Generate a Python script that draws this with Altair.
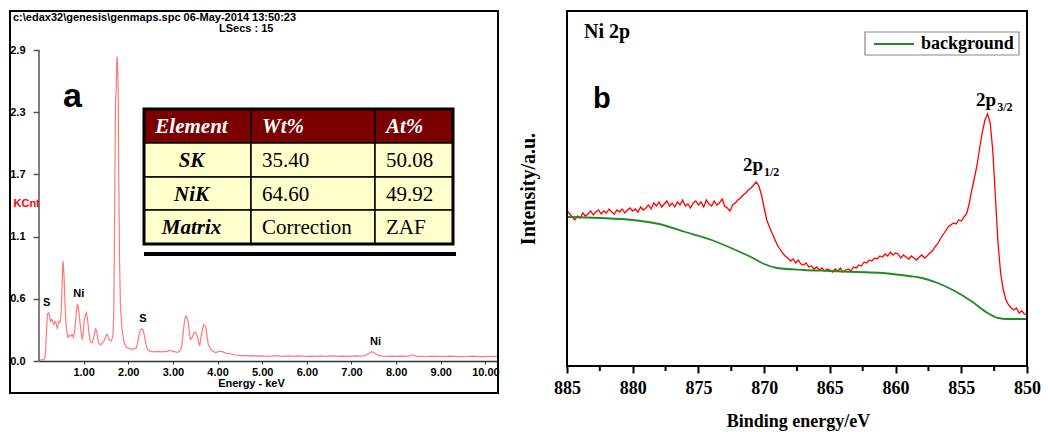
import json
import altair as alt
import pandas as pd

SANS = "Liberation Sans"
SERIF = "Liberation Serif"

# ---------------- Panel (a): EDS spectrum ----------------
EDS_HEADER = ["c:\\edax32\\genesis\\genmaps.spc  06-May-2014 13:50:23", "LSecs :  15"]
EDS_SPECTRUM = [  # (energy keV, KCnt)
    (0.00, 0.005), (0.05, 0.01), (0.10, 0.01), (0.13, 0.02), (0.15, 0.12), (0.17, 0.30),
    (0.19, 0.44), (0.22, 0.45), (0.24, 0.40), (0.26, 0.36), (0.28, 0.39), (0.30, 0.38),
    (0.32, 0.35), (0.34, 0.34), (0.36, 0.37), (0.38, 0.36), (0.41, 0.30), (0.43, 0.34),
    (0.45, 0.37), (0.47, 0.36), (0.49, 0.42), (0.51, 0.60), (0.53, 0.88), (0.54, 0.93),
    (0.56, 0.80), (0.58, 0.56), (0.60, 0.38), (0.62, 0.28), (0.65, 0.22), (0.68, 0.24),
    (0.71, 0.23), (0.74, 0.25), (0.77, 0.22), (0.80, 0.28), (0.82, 0.38), (0.84, 0.47),
    (0.86, 0.53), (0.88, 0.50), (0.90, 0.44), (0.92, 0.35), (0.94, 0.28), (0.97, 0.20),
    (0.99, 0.26), (1.01, 0.37), (1.04, 0.43), (1.06, 0.45), (1.08, 0.41), (1.10, 0.34),
    (1.12, 0.26), (1.14, 0.20), (1.17, 0.17), (1.19, 0.17), (1.22, 0.21), (1.24, 0.25),
    (1.27, 0.30), (1.29, 0.28), (1.31, 0.23), (1.33, 0.18), (1.35, 0.16), (1.38, 0.15),
    (1.42, 0.17), (1.45, 0.18), (1.47, 0.20), (1.50, 0.24), (1.53, 0.25), (1.55, 0.22),
    (1.57, 0.20), (1.60, 0.19), (1.62, 0.19), (1.64, 0.21), (1.66, 0.25), (1.675, 0.45),
    (1.684, 0.80), (1.698, 1.60), (1.713, 2.42), (1.729, 2.52), (1.742, 2.80), (1.751, 2.84),
    (1.765, 2.68), (1.774, 2.49), (1.787, 1.74), (1.803, 0.96), (1.825, 0.50), (1.863, 0.28),
    (1.908, 0.17), (1.95, 0.13), (2.00, 0.12), (2.05, 0.11), (2.10, 0.11), (2.15, 0.12),
    (2.18, 0.12), (2.21, 0.17), (2.24, 0.24), (2.27, 0.29), (2.30, 0.30), (2.33, 0.29),
    (2.36, 0.24), (2.39, 0.17), (2.42, 0.12), (2.45, 0.10), (2.50, 0.09), (2.55, 0.085),
    (2.60, 0.09), (2.65, 0.085), (2.70, 0.09), (2.75, 0.085), (2.80, 0.088), (2.85, 0.09),
    (2.90, 0.095), (2.95, 0.10), (3.00, 0.09), (3.05, 0.085), (3.10, 0.08), (3.15, 0.09),
    (3.19, 0.12), (3.22, 0.22), (3.25, 0.34), (3.27, 0.40), (3.29, 0.42), (3.31, 0.41),
    (3.34, 0.37), (3.37, 0.27), (3.39, 0.20), (3.42, 0.21), (3.44, 0.23), (3.47, 0.26),
    (3.49, 0.27), (3.52, 0.26), (3.55, 0.22), (3.58, 0.17), (3.60, 0.14), (3.62, 0.19),
    (3.64, 0.25), (3.67, 0.31), (3.69, 0.34), (3.72, 0.33), (3.74, 0.30), (3.77, 0.22),
    (3.79, 0.16), (3.83, 0.12), (3.86, 0.10), (3.90, 0.09), (3.94, 0.08), (3.98, 0.08),
    (4.02, 0.09), (4.06, 0.09), (4.10, 0.088), (4.15, 0.08), (4.20, 0.07), (4.25, 0.072),
    (4.30, 0.065), (4.35, 0.06), (4.40, 0.056), (4.50, 0.052), (4.60, 0.05), (4.70, 0.047),
    (4.80, 0.05), (4.90, 0.046), (5.00, 0.048), (5.10, 0.044), (5.20, 0.046), (5.30, 0.05),
    (5.40, 0.045), (5.50, 0.043), (5.60, 0.047), (5.70, 0.044), (5.80, 0.048), (5.90, 0.045),
    (6.00, 0.042), (6.10, 0.046), (6.20, 0.044), (6.30, 0.048), (6.40, 0.043), (6.50, 0.045),
    (6.60, 0.047), (6.70, 0.044), (6.80, 0.046), (6.90, 0.043), (7.00, 0.045), (7.10, 0.047),
    (7.20, 0.046), (7.30, 0.05), (7.35, 0.06), (7.40, 0.075), (7.45, 0.087), (7.50, 0.08),
    (7.55, 0.065), (7.60, 0.052), (7.70, 0.046), (7.80, 0.044), (7.90, 0.045), (8.00, 0.043),
    (8.10, 0.046), (8.20, 0.044), (8.30, 0.047), (8.38, 0.058), (8.45, 0.046), (8.60, 0.044),
    (8.70, 0.042), (8.80, 0.045), (8.90, 0.043), (9.00, 0.044), (9.10, 0.042), (9.20, 0.045),
    (9.30, 0.043), (9.40, 0.041), (9.50, 0.044), (9.60, 0.042), (9.70, 0.045), (9.80, 0.043),
    (9.90, 0.041), (10.00, 0.043), (10.10, 0.042), (10.26, 0.044),
]
EDS_Y_TICKS = [0.0, 0.58, 1.16, 1.74, 2.32, 2.9]
EDS_Y_TICK_LABELS = ["0.0", "0.6", "1.1", "1.7", "2.3", "2.9"]
EDS_X_TICKS = [1, 2, 3, 4, 5, 6, 7, 8, 9, 10]
EDS_PEAK_NAMES = ["S", "Ni", "S", "Ni"]
EDS_PEAK_KEV = [0.17, 0.89, 2.33, 7.54]
EDS_PEAK_KCNT = [0.45, 0.53, 0.30, 0.087]

TABLE_HEADER = ["Element", "Wt%", "At%"]
TABLE_ELEMENT = ["SK", "NiK", "Matrix"]
TABLE_WT = ["35.40", "64.60", "Correction"]
TABLE_AT = ["50.08", "49.92", "ZAF"]

# ---------------- Panel (b): XPS Ni 2p ----------------
XPS_BE_START = 885.0
XPS_BE_STEP = 0.2
XPS_RED = [
    156, 152, 149, 146, 150, 148, 153, 150, 152, 155,
    151, 154, 156, 152, 155, 153, 157, 154, 152, 156,
    154, 157, 153, 156, 158, 155, 157, 154, 159, 156,
    158, 161, 157, 163, 160, 164, 159, 162, 165, 160,
    163, 159, 164, 161, 166, 160, 162, 158, 163, 165,
    161, 164, 159, 166, 162, 160, 165, 161, 163, 167,
    160, 158, 155, 161, 163, 166, 168, 171, 173, 176,
    178, 181, 184, 180, 171, 158, 146, 139, 133, 127,
    121, 117, 113, 110, 108, 105, 107, 103, 106, 102,
    101, 103, 99, 100, 97, 99, 96, 98, 95, 97,
    96, 94, 97, 95, 98, 94, 96, 97, 95, 99,
    98, 101, 100, 104, 103, 106, 105, 108, 107, 110,
    109, 112, 110, 114, 111, 113, 112, 108, 111, 109,
    107, 110, 108, 106, 109, 111, 108, 110, 113, 115,
    119, 122, 127, 131, 135, 139, 141, 143, 142, 146,
    145, 149, 152, 162, 176, 188, 201, 218, 234, 246,
    252, 243, 215, 168, 122, 92, 76, 66, 61, 58,
    56, 58, 53, 55, 52, 51,
]
BG_BE = [885.0, 882.5, 880.0, 878.0, 876.0, 874.0, 872.0, 871.0, 870.0, 869.0, 867.0,
         865.0, 863.0, 861.0, 859.0, 858.0, 856.8, 855.5, 854.25, 853.0, 852.2, 851.5, 850.0]
BG_INT = [149, 148, 146, 142, 134, 126, 115, 109, 102, 98, 96,
          95, 94, 93, 90, 88, 83, 75, 65, 53, 48, 47, 47]
XPS_MAJOR_TICKS = [885, 880, 875, 870, 865, 860, 855, 850]
XPS_MINOR_TICKS = [882.5, 877.5, 872.5, 867.5, 862.5, 857.5, 852.5]
XPS_PEAK_MAIN = ["2p", "2p"]
XPS_PEAK_SUB = ["1/2", "3/2"]
XPS_PEAK_LABEL_BE = [870.05, 852.31]
XPS_PEAK_LABEL_INT = [195, 260]
LEGEND_LABELS = ["background"]

RED = "#ff0000"
GREEN = "#1e8c1e"
EDS_COLOR = "#ff7878"

one = pd.DataFrame({"k": [0]})

# ============ Panel (a) ============
W_A, H_A = 458, 350
x_a = alt.Scale(domain=[0, 10.26], nice=False, zero=False)
y_a = alt.Scale(domain=[0, 3.264], nice=False)

ylab_expr = "{}[indexof({}, datum.value)]".format(json.dumps(EDS_Y_TICK_LABELS), json.dumps(EDS_Y_TICKS))

axis_x_a = alt.Axis(values=EDS_X_TICKS, format=".2f", title="Energy - keV", titleX=212, titleY=22,
                    titleAlign="center", titleBaseline="middle", titleFont=SANS, titleFontWeight="bold",
                    titleFontSize=11, titleColor="black", labelFont=SANS, labelFontWeight="bold",
                    labelFontSize=11, labelColor="black", tickSize=3, tickColor="#333", domainColor="#333",
                    domainWidth=1.5, labelPadding=2, grid=False, labelFlush=False, labelOverlap=False)
axis_y_a = alt.Axis(values=EDS_Y_TICKS, labelExpr=ylab_expr, title="KCnt", titleAngle=0, titleX=-26,
                    titleY=192, titleAlign="left", titleBaseline="middle", titleColor="red",
                    titleFont=SANS, titleFontWeight="bold", titleFontSize=11, labelFont=SANS,
                    labelFontWeight="bold", labelFontSize=11, labelColor="black", tickSize=6,
                    tickColor="#555", tickWidth=1.5, domain=False, labelPadding=8, grid=False,
                    labelFlush=False, labelOverlap=False)

eds = pd.DataFrame(EDS_SPECTRUM, columns=["E", "C"])
line_a = alt.Chart(eds).mark_line(color=EDS_COLOR, strokeWidth=1.2, clip=True).encode(
    x=alt.X("E:Q", scale=x_a, axis=axis_x_a),
    y=alt.Y("C:Q", scale=y_a, axis=axis_y_a),
)
y_rule = alt.Chart(pd.DataFrame({"C": [EDS_Y_TICKS[0]], "C2": [EDS_Y_TICKS[-1]]})).mark_rule(
    color="#555", strokeWidth=1.5).encode(x=alt.value(0), y="C:Q", y2="C2:Q")

peaks_a = alt.Chart(pd.DataFrame({"E": EDS_PEAK_KEV, "C": EDS_PEAK_KCNT, "name": EDS_PEAK_NAMES})).mark_text(
    font=SANS, fontWeight="bold", fontSize=11, dy=-10, baseline="middle", color="black").encode(
    x="E:Q", y="C:Q", text="name:N")

frame_a = alt.Chart(one).mark_rect(fillOpacity=0, stroke="black", strokeWidth=2).encode(
    x=alt.value(-29), x2=alt.value(459), y=alt.value(0), y2=alt.value(382))

header1 = alt.Chart(pd.DataFrame({"t": [EDS_HEADER[0]]})).mark_text(
    align="left", baseline="middle", font=SANS, fontWeight="bold", fontSize=11, color="black").encode(
    text="t:N", x=alt.value(-26), y=alt.value(7))
header2 = alt.Chart(pd.DataFrame({"t": [EDS_HEADER[1]]})).mark_text(
    align="left", baseline="middle", font=SANS, fontWeight="bold", fontSize=11, color="black").encode(
    text="t:N", x=alt.value(180), y=alt.value(18))

label_a = alt.Chart(pd.DataFrame({"t": ["a"]})).mark_text(
    align="left", baseline="alphabetic", font=SANS, fontWeight="bold", fontSize=34, color="black").encode(
    text="t:N", x=alt.value(24), y=alt.value(96))

# table layout (pixels, relative to panel-a plot area)
COL_EDGES = [105, 212, 336, 414]
ROW_EDGES = [98, 132, 166, 199, 233]
rows = [TABLE_HEADER] + [list(r) for r in zip(TABLE_ELEMENT, TABLE_WT, TABLE_AT)]
cells = []
for r, row in enumerate(rows):
    for c, txt in enumerate(row):
        if c == 0:
            tx = (COL_EDGES[0] + COL_EDGES[1]) / 2 - 6
        else:
            tx = COL_EDGES[c] + 11
        cells.append(dict(txt=txt, x0=COL_EDGES[c], x1=COL_EDGES[c + 1], y0=ROW_EDGES[r],
                          y1=ROW_EDGES[r + 1], fill="#7a0000" if r == 0 else "#ffffcc",
                          tx=tx, ty=(ROW_EDGES[r] + ROW_EDGES[r + 1]) / 2 + 1,
                          role="head" if r == 0 else ("elem" if c == 0 else "val")))
cells = pd.DataFrame(cells)

table_rect = alt.Chart(cells).mark_rect(stroke="black", strokeWidth=1.5).encode(
    x=alt.X("x0:Q", scale=None), x2="x1:Q", y=alt.Y("y0:Q", scale=None), y2="y1:Q",
    fill=alt.Fill("fill:N", scale=None))
table_border = alt.Chart(one).mark_rect(fillOpacity=0, stroke="black", strokeWidth=3).encode(
    x=alt.value(COL_EDGES[0]), x2=alt.value(COL_EDGES[-1]), y=alt.value(ROW_EDGES[0]), y2=alt.value(ROW_EDGES[-1]))
table_bar = alt.Chart(one).mark_rect(fill="black").encode(
    x=alt.value(COL_EDGES[0]), x2=alt.value(COL_EDGES[-1] + 3), y=alt.value(241), y2=alt.value(245))


def table_text(role, align, color, style, weight):
    return alt.Chart(cells[cells.role == role]).mark_text(
        align=align, baseline="middle", font=SERIF, fontSize=21, fontStyle=style,
        fontWeight=weight, color=color).encode(
        x=alt.X("tx:Q", scale=None), y=alt.Y("ty:Q", scale=None), text="txt:N")


t_head_first = alt.Chart(cells[(cells.role == "head") & (cells.x0 == COL_EDGES[0])]).mark_text(
    align="center", baseline="middle", font=SERIF, fontSize=21, fontStyle="italic",
    fontWeight="bold", color="white").encode(
    x=alt.X("tx:Q", scale=None), y=alt.Y("ty:Q", scale=None), text="txt:N")
t_head_rest = alt.Chart(cells[(cells.role == "head") & (cells.x0 != COL_EDGES[0])]).mark_text(
    align="left", baseline="middle", font=SERIF, fontSize=21, fontStyle="italic",
    fontWeight="bold", color="white").encode(
    x=alt.X("tx:Q", scale=None), y=alt.Y("ty:Q", scale=None), text="txt:N")
t_elem = table_text("elem", "center", "black", "italic", "bold")
t_val = table_text("val", "left", "black", "normal", "normal")

left = alt.layer(
    line_a, y_rule, peaks_a, frame_a, header1, header2, label_a,
    table_rect, table_border, table_bar, t_head_first, t_head_rest, t_elem, t_val,
).properties(width=W_A, height=H_A)

# ============ Panel (b) ============
W_B, H_B = 460, 355
x_b = alt.Scale(domain=[850, 885], reverse=True, nice=False, zero=False)
y_b = alt.Scale(domain=[0, 355], nice=False)

axis_x_b = alt.Axis(values=XPS_MAJOR_TICKS, format="d", tickSize=7, tickWidth=2, tickColor="black",
                    domain=False, labelFont=SERIF, labelFontWeight="bold", labelFontSize=18,
                    labelColor="black", labelPadding=6, title="Binding energy/eV", titleX=231,
                    titleY=55, titleAlign="center", titleBaseline="middle", titleFont=SERIF,
                    titleFontWeight="bold", titleFontSize=18, titleColor="black", grid=False,
                    labelFlush=False, labelOverlap=False)
axis_y_b = alt.Axis(labels=False, ticks=False, domain=False, grid=False, title="Intensity/a.u.",
                    titleX=-39, titleY=177.5, titleAlign="center", titleBaseline="middle",
                    titleFont=SERIF, titleFontWeight="bold", titleFontSize=20, titleColor="black")

xps = pd.DataFrame({"BE": [round(XPS_BE_START - i * XPS_BE_STEP, 1) for i in range(len(XPS_RED))],
                    "I": XPS_RED})
bg = pd.DataFrame({"BE": BG_BE, "I": BG_INT})

red = alt.Chart(xps).mark_line(color=RED, strokeWidth=1.3, clip=True).encode(
    x=alt.X("BE:Q", scale=x_b, axis=axis_x_b), y=alt.Y("I:Q", scale=y_b, axis=axis_y_b))
green = alt.Chart(bg).mark_line(color=GREEN, strokeWidth=1.8, interpolate="monotone", clip=True).encode(
    x="BE:Q", y="I:Q")
minor = alt.Chart(pd.DataFrame({"BE": XPS_MINOR_TICKS})).mark_rule(color="black", strokeWidth=2).encode(
    x="BE:Q", y=alt.value(H_B + 1), y2=alt.value(H_B + 5))
frame_b = alt.Chart(one).mark_rect(fillOpacity=0, stroke="black", strokeWidth=2).encode(
    x=alt.value(0), x2=alt.value(W_B), y=alt.value(0), y2=alt.value(H_B))

peak_df = pd.DataFrame({"BE": XPS_PEAK_LABEL_BE, "I": XPS_PEAK_LABEL_INT,
                        "main": XPS_PEAK_MAIN, "sub": XPS_PEAK_SUB})
peak_main = alt.Chart(peak_df).mark_text(align="right", baseline="alphabetic", font=SERIF,
                                         fontWeight="bold", fontSize=19, color="black", dx=-0.5).encode(
    x="BE:Q", y="I:Q", text="main:N")
peak_sub = alt.Chart(peak_df).mark_text(align="left", baseline="alphabetic", font=SERIF,
                                        fontWeight="bold", fontSize=12, color="black", dx=0.5, dy=5).encode(
    x="BE:Q", y="I:Q", text="sub:N")

title_b = alt.Chart(pd.DataFrame({"t": ["Ni 2p"]})).mark_text(
    align="left", baseline="alphabetic", font=SERIF, fontWeight="bold", fontSize=20, color="black").encode(
    text="t:N", x=alt.value(17), y=alt.value(27))
label_b = alt.Chart(pd.DataFrame({"t": ["b"]})).mark_text(
    align="left", baseline="alphabetic", font=SANS, fontWeight="bold", fontSize=29, color="black").encode(
    text="t:N", x=alt.value(26), y=alt.value(97))

leg_box = alt.Chart(one).mark_rect(fill="white", stroke="#888", strokeWidth=1.2).encode(
    x=alt.value(298), x2=alt.value(452), y=alt.value(21), y2=alt.value(44))
leg_line = alt.Chart(one).mark_rule(color=GREEN, strokeWidth=2).encode(
    x=alt.value(307), x2=alt.value(347), y=alt.value(33))
leg_text = alt.Chart(pd.DataFrame({"t": LEGEND_LABELS})).mark_text(
    align="left", baseline="middle", font=SERIF, fontWeight="bold", fontSize=18, color="black").encode(
    text="t:N", x=alt.value(354), y=alt.value(33))

right = alt.layer(
    red, green, minor, frame_b, peak_main, peak_sub, title_b, label_b, leg_box, leg_line, leg_text,
).properties(width=W_B, height=H_B)

chart = alt.hconcat(left, right, spacing=70, bounds="flush",
                    padding={"left": 8, "top": 9, "right": 0, "bottom": 0}).configure_view(
    stroke="transparent")

chart.save("out.html", embed_options={"renderer": "svg", "actions": False})
